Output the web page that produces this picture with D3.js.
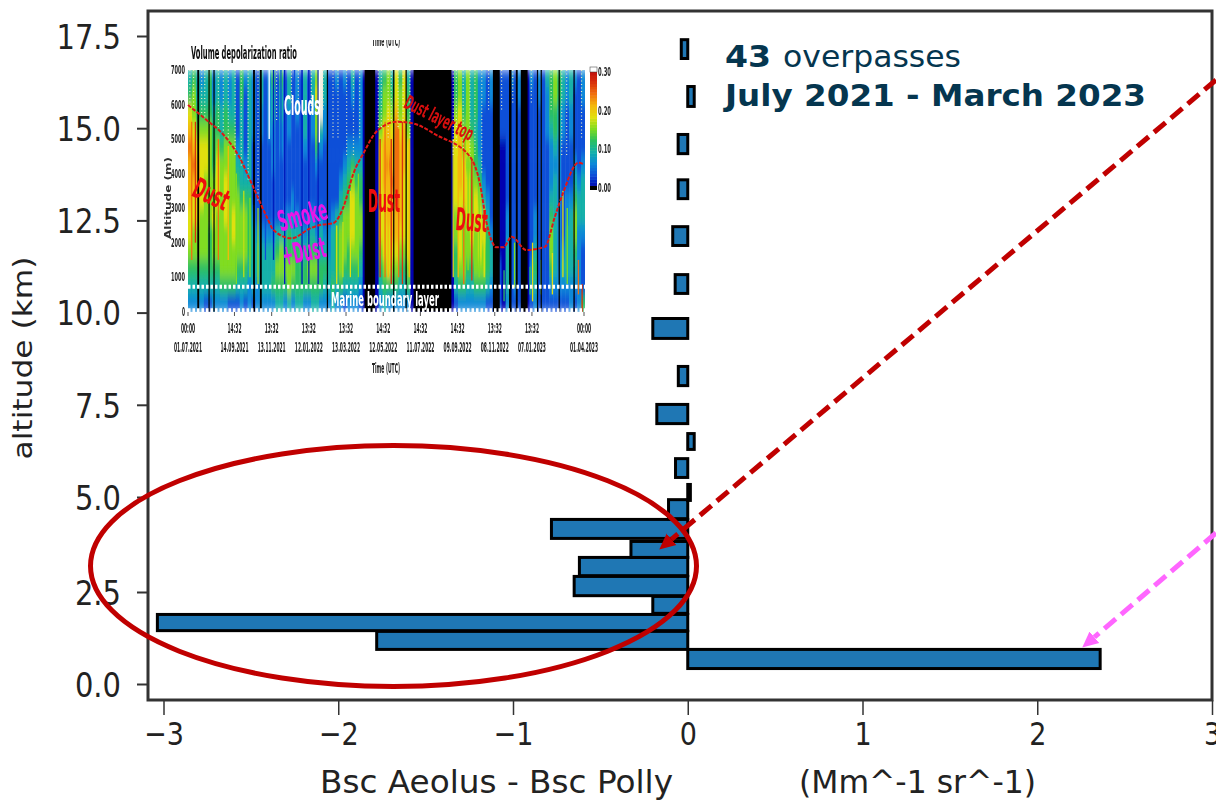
<!DOCTYPE html>
<html>
<head>
<meta charset="utf-8">
<title>Bsc Aeolus - Bsc Polly</title>
<script src="https://cdnjs.cloudflare.com/ajax/libs/d3/7.8.5/d3.min.js"></script>
<style>
  html, body { margin: 0; padding: 0; background: #fff; }
  svg { display: block; font-family: "DejaVu Sans", sans-serif; }
</style>
</head>
<body>
<div id="plot"></div>
<script>
// Bars: altitude bin (km) and backscatter difference
const binBottom = [0.42, 0.94, 1.45, 1.92, 2.40, 2.93, 3.41, 3.91, 4.43, 4.91, 5.53, 6.29, 6.99, 8.02, 9.30, 10.52, 11.82, 13.09, 14.31, 15.59, 16.89];
const binTop = [0.94, 1.43, 1.89, 2.38, 2.91, 3.41, 3.83, 4.41, 4.93, 5.34, 6.04, 6.72, 7.51, 8.54, 9.84, 11.03, 12.33, 13.60, 14.83, 16.13, 17.40];
const bscDiff = [2.36, -1.78, -3.035, -0.2, -0.65, -0.62, -0.325, -0.78, -0.11, 0.015, -0.07, 0.037, -0.177, -0.054, -0.2, -0.072, -0.086, -0.055, -0.055, 0.037, -0.037];
const xTicks = [-3, -2, -1, 0, 1, 2, 3];
const yTicks = [0, 2.5, 5, 7.5, 10, 12.5, 15, 17.5];

// Inset: depolarization per time column, rows top (7000 m) to bottom (0 m), digit = 0.03 steps, w = cloud
const depolRows = [
  '3432342323 2314232131 2414131213 135w311212 1312000034 5364630000 0000000453 5342212011 1212002121 3454323212',
  '4533342323 2314132131 2313131213 136w311111 1212000035 5465640000 0000000453 5342212011 1112001121 2454323112',
  '6544443434 3313132121 2313121213 125w211111 1112000045 6575640000 0000000564 5342111011 1111001111 2443212111',
  '7655554434 4413132121 2212121113 1253211111 1112000056 7686750000 0000000675 5432111011 1111001111 2343212111',
  '8766654545 5523131111 1212111112 1142111111 2222000067 7787760000 0000000675 6542111000 1111001111 1232111111',
  '7876654655 5533231111 1211111111 1121111112 3433000067 8787760000 0000000676 5543111000 1111001111 1222111212',
  '7776555656 5543331111 1111111111 1111111123 4544000067 7887660000 0000000676 6554211000 1111001111 1232111323',
  '7666555656 5554441111 1111112111 1111111134 4654000066 7787660000 0000000666 6565321000 1111001111 1332122433',
  '6665556556 5655542111 1111222211 2212112345 5655000066 7777660000 0000000565 6566531000 2111001211 1432123533',
  '6555545555 5655543222 2233343332 3323223455 5655000066 6776660000 0000000565 5656642000 2111001211 1532133522',
  '5555545555 5555543333 3345444443 4443323455 4554000056 6665560000 0000000465 5556543100 3121001311 1532233421',
  '4444444455 5544433333 3355555444 5554433454 4443000045 6554450000 0000000455 4455543210 3121002411 1432333321',
  '3333333344 4433323233 3444454444 4444334343 3332000034 4443340000 0000000344 3344432210 3121002311 1222222221',
  '2222112222 1112121222 2233232332 2332223221 2221000023 2222220000 0000000122 2222211110 2111001211 1111112124',
];
const depolColors = ['#0000b0', '#0a50d8', '#0a88d8', '#12b0a8', '#2cc060', '#80dc20', '#e0e010', '#f4b808', '#f07010', '#d83010', '#c01008'];
const noDataDays = [[15, 18], [33, 35], [41, 43.5], [105, 108], [116, 119], [224, 226], [285, 302],
  [331, 333], [351, 353], [364, 425], [492, 503], [518, 522], [529, 532], [537, 548], [563, 565], [569, 571], [598, 600], [622, 624]];
// single narrow profiles: day, depolarization (null = cloud), altitude range
const streakDay = [6, 12, 49, 65, 78, 90, 100, 113, 125, 138, 150, 156, 172, 184, 195, 210, 240, 250, 262, 275, 310, 318, 323, 328, 340, 346, 357, 428, 436, 445, 452, 458, 470, 478, 510, 527, 552, 556, 570, 588, 605, 612, 630, 636, 131, 212];
const streakDepol = [0.24, 0.27, 0.24, 0.21, 0.15, 0.17, 0.15, 0.16, 0.03, 0.01, 0.03, 0.01, 0.03, 0.01, 0.01, 0.01, 0.18, 0.17, 0.18, 0.15, 0.27, 0.24, 0.21, 0.27, 0.24, 0.27, 0.21, 0.18, 0.21, 0.24, 0.15, 0.27, 0.15, 0.18, 0.12, 0.15, 0.12, 0.18, 0.15, 0.18, 0.18, 0.15, 0.24, 0.27, null, null];
const streakTop = [5500, 5500, 5000, 4800, 4000, 3500, 3300, 3000, 6000, 7000, 7000, 7000, 7000, 7000, 7000, 7000, 2500, 2600, 3500, 4000, 5000, 5500, 5300, 5000, 5300, 5500, 5000, 5000, 4500, 5000, 4500, 4400, 3800, 3000, 1200, 2000, 1300, 2000, 1500, 1700, 3500, 3000, 1500, 800, 7000, 7000];
const streakBottom = [1500, 2000, 1500, 1500, 800, 1000, 1000, 800, 1500, 1500, 2500, 800, 2400, 800, 800, 800, 800, 1000, 1000, 1000, 1000, 1000, 1000, 800, 1000, 800, 1000, 1000, 1000, 800, 1200, 900, 1000, 1000, 300, 700, 500, 300, 500, 500, 1000, 800, 500, 0, 5000, 4900];
// speckled (noisy) profiles above the dust layer
const speckleDay = [3, 9, 22, 27, 49, 57, 65, 76, 86, 97, 113, 143, 167, 178, 199, 218, 234, 242, 256, 267, 277, 307, 312, 323, 328, 339, 347, 358, 428, 433, 444, 455, 463, 474, 485, 506, 524, 554, 586, 603, 611, 635];
const speckleBottom = [5900, 5800, 5700, 5600, 5300, 5200, 5000, 4500, 4200, 3800, 3200, 5500, 6000, 6000, 5800, 5800, 5000, 5000, 4500, 4500, 5000, 5300, 5300, 5000, 5500, 5300, 5500, 5000, 4500, 4700, 4700, 4500, 4500, 4000, 5800, 5800, 6000, 6000, 5800, 4500, 4500, 5000];
const dustTopDays = [0, 30, 60, 84, 105, 127, 138, 167, 197, 213, 234, 251, 267, 283, 304, 337, 363, 401, 455, 471, 482, 498, 509, 522, 546, 576, 592, 605, 630, 638];
const dustTopAlt = [5985, 5550, 5068, 4440, 3620, 2751, 2365, 2124, 2413, 2510, 2558, 3040, 4006, 4585, 5212, 5502, 5454, 5116, 4488, 3716, 2558, 1863, 1863, 2172, 1786, 1882, 2751, 3427, 4315, 4276];
const insetDates = ['2021-07-01', '2021-09-14', '2021-11-13', '2022-01-12', '2022-03-13', '2022-05-12', '2022-07-11', '2022-09-09', '2022-11-08', '2023-01-07', '2023-04-01'];
const insetTimes = ['00:00', '14:32', '13:32', '13:32', '13:32', '14:32', '14:32', '14:32', '13:32', '13:32', '00:00'];
const insetDateLabels = ['01.07.2021', '14.09.2021', '13.11.2021', '12.01.2022', '13.03.2022', '12.05.2022', '11.07.2022', '09.09.2022', '08.11.2022', '07.01.2023', '01.04.2023'];
const insetAltTicks = [0, 1000, 2000, 3000, 4000, 5000, 6000, 7000];
const colorbarTicks = [0, 0.1, 0.2, 0.3];

const svg = d3.select('#plot').append('svg').attr('width', 1216).attr('height', 800);
const INK = '#222';
const RED = '#c00000';

const xScale = d3.scaleLinear().domain([-3, 3]).range([163.5, 1212]);
// the picture is slightly uneven below 5 km, so the scale has stops
const yScale = d3.scaleLinear().domain([0, 2.5, 5, 17.5]).range([684, 592, 497, 36]);

function label(parent, str, x, y, len, size, color, opts = {}) {
  const t = parent.append('text')
    .attr('transform', `translate(${x},${y}) rotate(${opts.rotate || 0}) scale(1,${opts.stretch || 1})`)
    .attr('text-anchor', opts.anchor || 'middle')
    .attr('font-size', size)
    .attr('font-weight', opts.weight || 'normal')
    .attr('fill', color)
    .text(str);
  if (len)
    t.attr('textLength', len).attr('lengthAdjust', 'spacingAndGlyphs');
  return t;
}

// Bars
svg.append('g')
  .selectAll('rect')
  .data(bscDiff)
  .enter().append('rect')
  .attr('x', d => Math.min(xScale(0), xScale(d)))
  .attr('width', d => Math.abs(xScale(d) - xScale(0)))
  .attr('y', (_, i) => yScale(binTop[i]))
  .attr('height', (_, i) => yScale(binBottom[i]) - yScale(binTop[i]))
  .attr('fill', '#1f77b4')
  .attr('stroke', '#000')
  .attr('stroke-width', 3);

// Axes
const xAxis = svg.append('g')
  .attr('transform', 'translate(0,700)')
  .call(d3.axisBottom(xScale).tickValues(xTicks).tickSizeInner(15).tickSizeOuter(0).tickPadding(6)
    .tickFormat(d => String(d).replace('-', '\u2212')));
xAxis.selectAll('line').attr('stroke', '#333').attr('stroke-width', 1.5);
xAxis.selectAll('text')
  .attr('y', 0).attr('dy', '.36em')
  .attr('transform', 'translate(0,33) scale(1,1.2)')
  .attr('font-size', 27).attr('fill', INK).attr('font-family', '"DejaVu Sans"');
xAxis.select('.domain').remove();

const yAxis = svg.append('g')
  .attr('transform', 'translate(148,0)')
  .call(d3.axisLeft(yScale).tickValues(yTicks).tickSizeInner(11).tickSizeOuter(0).tickPadding(16)
    .tickFormat(d3.format('.1f')));
yAxis.selectAll('line').attr('stroke', '#333').attr('stroke-width', 2);
yAxis.selectAll('text')
  .attr('dy', '.36em')
  .attr('transform', 'scale(1,1.18)')
  .attr('font-size', 29).attr('fill', INK).attr('font-family', '"DejaVu Sans"');
yAxis.select('.domain').remove();

// Frame
svg.append('rect')
  .attr('x', 148).attr('y', 11).attr('width', 1064).attr('height', 689)
  .attr('fill', 'none').attr('stroke', '#333').attr('stroke-width', 3);

label(svg, 'altitude (km)', 32, 358, 203, 27, INK, {rotate: -90});
label(svg, 'Bsc  Aeolus - Bsc  Polly', 320, 793, 353, 27, INK, {anchor: 'start', stretch: 1.2});
label(svg, '(Mm^-1 sr^-1)', 799, 793, 237, 27, INK, {anchor: 'start', stretch: 1.2});

// Inset heatmap
const defs = svg.append('defs');
defs.append('clipPath').attr('id', 'inset-clip')
  .append('rect').attr('x', 188).attr('y', 69).attr('width', 397).attr('height', 243);
defs.append('clipPath').attr('id', 'top-clip')
  .append('rect').attr('x', 360).attr('y', 40).attr('width', 60).attr('height', 8);
defs.append('filter').attr('id', 'soft').attr('x', 0).attr('y', 0).attr('width', 1).attr('height', 1)
  .append('feGaussianBlur').attr('stdDeviation', '0.7 6');
defs.append('filter').attr('id', 'scan')
  .attr('filterUnits', 'userSpaceOnUse').attr('x', 150).attr('y', 30).attr('width', 470).attr('height', 350)
  .append('feGaussianBlur').attr('stdDeviation', 0.4);
const arrowHead = (id, color) => defs.append('marker')
  .attr('id', id).attr('markerUnits', 'userSpaceOnUse')
  .attr('markerWidth', 18).attr('markerHeight', 18).attr('refX', 0).attr('refY', 9).attr('orient', 'auto')
  .append('path').attr('d', 'M0,1.5L16,9L0,16.5Z').attr('fill', color);
arrowHead('head-red', RED);
arrowHead('head-pink', '#ff66ff');

const inset = svg.append('g').attr('filter', 'url(#scan)');

const timeScale = d3.scaleTime()
  .domain([new Date(2021, 6, 1), new Date(2023, 3, 1)])
  .range([188, 584]);
const altScale = d3.scaleLinear().domain([0, 7000]).range([311.7, 70]);
const dayToDate = d => d3.timeDay.offset(new Date(2021, 6, 1), d);
const dayX = d => timeScale(dayToDate(d));
const depolScale = d3.scaleLinear().domain(depolColors.map((_, i) => i * 0.03)).range(depolColors);
const colScale = d3.scaleBand().domain(d3.range(100)).range([188, 585]);
const rowScale = d3.scaleBand().domain(d3.range(14)).range([altScale(7000), altScale(0)]);

const cells = [];
depolRows.forEach((row, r) => {
  row.replace(/ /g, '').split('').forEach((c, i) => cells.push({r, i, c}));
});
const heat = inset.append('g').attr('clip-path', 'url(#inset-clip)');
heat.append('g')
  .attr('filter', 'url(#soft)')
  .selectAll('rect')
  .data(cells)
  .enter().append('rect')
  .attr('x', d => colScale(d.i))
  .attr('y', d => rowScale(d.r))
  .attr('width', colScale.bandwidth() + 0.5)
  .attr('height', rowScale.bandwidth() + 0.5)
  .attr('fill', d => d.c === 'w' ? '#f4f0e4' : depolScale(+d.c * 0.03));

heat.append('g')
  .selectAll('line')
  .data(streakDay)
  .enter().append('line')
  .attr('x1', d => dayX(d)).attr('x2', d => dayX(d))
  .attr('y1', (_, i) => altScale(streakTop[i]))
  .attr('y2', (_, i) => altScale(streakBottom[i]))
  .attr('stroke', (_, i) => streakDepol[i] === null ? '#fff' : depolScale(streakDepol[i]))
  .attr('stroke-width', 1.3);

heat.append('g')
  .selectAll('line')
  .data(speckleDay)
  .enter().append('line')
  .attr('x1', d => dayX(d)).attr('x2', d => dayX(d))
  .attr('y1', altScale(7000))
  .attr('y2', (_, i) => altScale(speckleBottom[i]))
  .attr('stroke', '#e8ecc0')
  .attr('stroke-width', 1.2)
  .attr('stroke-dasharray', '1,2.5');

heat.append('g')
  .selectAll('rect')
  .data(noDataDays)
  .enter().append('rect')
  .attr('x', d => dayX(d[0]))
  .attr('width', d => dayX(d[1]) - dayX(d[0]))
  .attr('y', altScale(7000))
  .attr('height', altScale(0) - altScale(7000))
  .attr('fill', '#000');

// Marine boundary layer dotted lines
[720, 40].forEach(alt => {
  inset.append('line')
    .attr('x1', 188).attr('x2', 585)
    .attr('y1', altScale(alt)).attr('y2', altScale(alt))
    .attr('stroke', '#fff').attr('stroke-width', 4).attr('stroke-dasharray', '2.5,2');
});

// Dust layer top
inset.append('path')
  .datum(dustTopDays.map((d, i) => [dayX(d), altScale(dustTopAlt[i])]))
  .attr('d', d3.line().curve(d3.curveMonotoneX))
  .attr('fill', 'none').attr('stroke', '#e01818').attr('stroke-width', 2).attr('stroke-dasharray', '4,1.5');

// Inset axes
insetAltTicks.forEach(a => {
  label(inset, a, 185, altScale(a) + 4, a ? 14 : 3, 9, INK, {anchor: 'end', weight: 'bold', stretch: 1.4});
});
insetDates.forEach((d, i) => {
  const x = timeScale(new Date(d + 'T00:00:00'));
  inset.append('line').attr('x1', x).attr('x2', x).attr('y1', 312).attr('y2', 316).attr('stroke', '#555');
  label(inset, insetTimes[i], x, 333, 14, 9, INK, {weight: 'bold', stretch: 1.5});
  label(inset, insetDateLabels[i], x, 352, 28, 9, INK, {weight: 'bold', stretch: 1.5});
});
label(inset, 'Time (UTC)', 386, 373, 28, 9, INK, {weight: 'bold', stretch: 1.5});
inset.append('g').attr('clip-path', 'url(#top-clip)').call(g => {
  label(g, 'Time (UTC)', 386, 46, 28, 9, INK, {weight: 'bold', stretch: 1.5});
});
label(inset, 'Volume depolarization ratio', 191, 59, 106, 13, '#111', {anchor: 'start', weight: 'bold', stretch: 1.3});
label(inset, 'Altitude (m)', 171, 198, 82, 9, '#333', {rotate: -90, weight: 'bold'});

// Inset colorbar
const cbScale = d3.scaleLinear().domain([0, 0.3]).range([188, 72]);
inset.append('g')
  .selectAll('rect')
  .data(d3.range(0, 0.3, 0.0075))
  .enter().append('rect')
  .attr('x', 590).attr('width', 7)
  .attr('y', d => cbScale(d + 0.0075))
  .attr('height', cbScale(0) - cbScale(0.0075) + 0.5)
  .attr('fill', d => depolScale(d));
inset.append('rect').attr('x', 590).attr('y', 186).attr('width', 7).attr('height', 4).attr('fill', '#000');
inset.append('rect').attr('x', 590).attr('y', 67).attr('width', 7).attr('height', 5).attr('fill', '#fff').attr('stroke', '#333').attr('stroke-width', 0.5);
colorbarTicks.forEach(v => {
  label(inset, v.toFixed(2), 598, cbScale(v) + 4, 13, 9, INK, {anchor: 'start', weight: 'bold', stretch: 1.4});
});

// Inset annotations
label(inset, 'Clouds', 302, 115, 36, 18, '#fff', {weight: 'bold', stretch: 1.45});
label(inset, 'Dust', 207, 203, 37, 19, '#ee1010', {weight: 'bold', rotate: 25, stretch: 1.5});
label(inset, 'Smoke', 305, 225, 50, 19, '#e818e8', {weight: 'bold', rotate: -15, stretch: 1.5});
label(inset, '+Dust', 306, 261, 44, 19, '#e818e8', {weight: 'bold', rotate: -12, stretch: 1.5});
label(inset, 'Dust', 384, 212, 32, 21, '#ee1010', {weight: 'bold', stretch: 1.5});
label(inset, 'Dust', 471, 231, 32, 21, '#ee1010', {weight: 'bold', rotate: 4, stretch: 1.5});
label(inset, 'Dust layer top', 436, 124, 75, 14, '#d81010', {weight: 'bold', rotate: 27, stretch: 1.4});
label(inset, 'Marine boundary layer', 385, 306, 108, 15, '#fff', {weight: 'bold', stretch: 1.3});

// Headline
const head = svg.append('text').attr('fill', '#05364f').attr('font-size', 31);
head.append('tspan').attr('x', 725).attr('y', 67).attr('font-weight', 'bold').attr('textLength', 46).attr('lengthAdjust', 'spacingAndGlyphs').text('43');
head.append('tspan').attr('x', 783).attr('y', 67).attr('textLength', 178).attr('lengthAdjust', 'spacingAndGlyphs').text('overpasses');
label(svg, 'July 2021 - March 2023', 725, 106, 421, 31, '#05364f', {anchor: 'start', weight: 'bold'});

// Ellipse and arrows on top of everything
svg.append('ellipse')
  .attr('cx', 393.5).attr('cy', 566).attr('rx', 303).attr('ry', 120.5)
  .attr('fill', 'none').attr('stroke', RED).attr('stroke-width', 5);
svg.append('line')
  .attr('x1', 1216).attr('y1', 80).attr('x2', 671.5).attr('y2', 539.3)
  .attr('stroke', RED).attr('stroke-width', 5).attr('stroke-dasharray', '15,7')
  .attr('marker-end', 'url(#head-red)');
svg.append('line')
  .attr('x1', 1216).attr('y1', 533).attr('x2', 1094.4).attr('y2', 637.2)
  .attr('stroke', '#ff66ff').attr('stroke-width', 5).attr('stroke-dasharray', '15,7')
  .attr('marker-end', 'url(#head-pink)');
</script>
</body>
</html>
